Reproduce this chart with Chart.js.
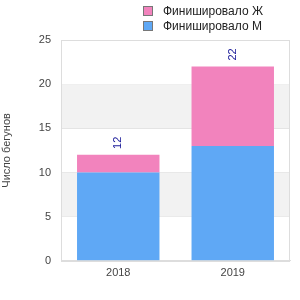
<!DOCTYPE html>
<html>
<head>
<meta charset="utf-8">
<script src="https://cdn.jsdelivr.net/npm/chart.js@4/dist/chart.umd.min.js"></script>
<style>
  html, body { margin: 0; padding: 0; background: #fff; }
  #wrap { position: relative; width: 300px; height: 300px; }
  #legend { position: absolute; left: 143px; top: 3px; font: 12px "Liberation Sans", Arial, sans-serif; color: #222; }
  .li { display: flex; align-items: center; height: 15px; }
  .box { width: 8px; height: 8px; border: 1px solid #777; margin-right: 10px; }
</style>
</head>
<body>
<div id="wrap">
  <canvas id="c" width="300" height="300"></canvas>
  <div id="legend"></div>
</div>
<script>
const categories = ["2018", "2019"];
const seriesNames = ["Финишировало М", "Финишировало Ж"];
const finishedM = [10, 13];
const finishedF = [2, 9];
const yTicks = [0, 5, 10, 15, 20, 25];
const yTitle = "Число бегунов";
const colors = ["#5fa8f5", "#f283bd"];

const FONT = "'Liberation Sans', Arial, sans-serif";

// HTML legend (reversed order like reference)
const legendEl = document.getElementById('legend');
[1, 0].forEach(i => {
  const row = document.createElement('div');
  row.className = 'li';
  const b = document.createElement('span');
  b.className = 'box';
  b.style.background = colors[i];
  const t = document.createElement('span');
  t.textContent = seriesNames[i];
  row.appendChild(b); row.appendChild(t);
  legendEl.appendChild(row);
});

const bandPlugin = {
  id: 'bands',
  beforeDatasetsDraw(chart) {
    const {ctx, chartArea, scales: {y}} = chart;
    ctx.save();
    ctx.fillStyle = '#f2f2f2';
    for (let i = 0; i < yTicks.length - 1; i++) {
      if (i % 2 === 1) {
        const top = y.getPixelForValue(yTicks[i + 1]);
        const bot = y.getPixelForValue(yTicks[i]);
        ctx.fillRect(chartArea.left, top, chartArea.right - chartArea.left, bot - top);
      }
    }
    ctx.restore();
  }
};

const totalPlugin = {
  id: 'totals',
  afterDatasetsDraw(chart) {
    const {ctx, scales: {x, y}} = chart;
    ctx.save();
    ctx.fillStyle = '#1a1a99';
    ctx.font = "11px " + FONT;
    ctx.textAlign = 'center';
    ctx.textBaseline = 'middle';
    categories.forEach((c, i) => {
      const total = finishedM[i] + finishedF[i];
      const px = x.getPixelForValue(i);
      const py = y.getPixelForValue(total) - 12;
      ctx.save();
      ctx.translate(px, py);
      ctx.rotate(-Math.PI / 2);
      ctx.fillText(String(total), 0, 0);
      ctx.restore();
    });
    ctx.restore();
  }
};

new Chart(document.getElementById('c'), {
  type: 'bar',
  data: {
    labels: categories,
    datasets: [
      { label: seriesNames[0], data: finishedM, backgroundColor: colors[0], barPercentage: 0.72, categoryPercentage: 1 },
      { label: seriesNames[1], data: finishedF, backgroundColor: colors[1], barPercentage: 0.72, categoryPercentage: 1 }
    ]
  },
  options: {
    responsive: false,
    animation: false,
    layout: { padding: { top: 40, right: 10, bottom: 14, left: 0 } },
    plugins: { legend: { display: false }, tooltip: { enabled: false } },
    scales: {
      x: {
        stacked: true,
        grid: { display: false, drawTicks: false },
        border: { display: true, color: '#dddddd' },
        ticks: { color: '#444', font: { size: 11, family: FONT }, padding: 6 }
      },
      y: {
        stacked: true,
        min: 0, max: 25,
        afterBuildTicks(scale) { scale.ticks = yTicks.map(v => ({ value: v })); },
        afterFit(scale) { scale.width = 61; },
        grid: { color: '#dddddd', drawTicks: false },
        border: { display: true, color: '#dddddd' },
        ticks: { color: '#444', font: { size: 11, family: FONT }, padding: 10 },
        title: { display: true, text: yTitle, color: '#444', font: { size: 11, family: FONT }, padding: { top: 0, bottom: 0 } }
      }
    }
  },
  plugins: [bandPlugin, totalPlugin, {
    id: 'frame',
    afterDraw(chart) {
      const {ctx, chartArea: a} = chart;
      ctx.save();
      ctx.strokeStyle = '#dddddd';
      ctx.lineWidth = 1;
      ctx.strokeRect(Math.round(a.left) + 0.5, Math.round(a.top) + 0.5, Math.round(a.right - a.left) - 1, Math.round(a.bottom - a.top));
      ctx.restore();
    }
  }]
});
</script>
</body>
</html>
